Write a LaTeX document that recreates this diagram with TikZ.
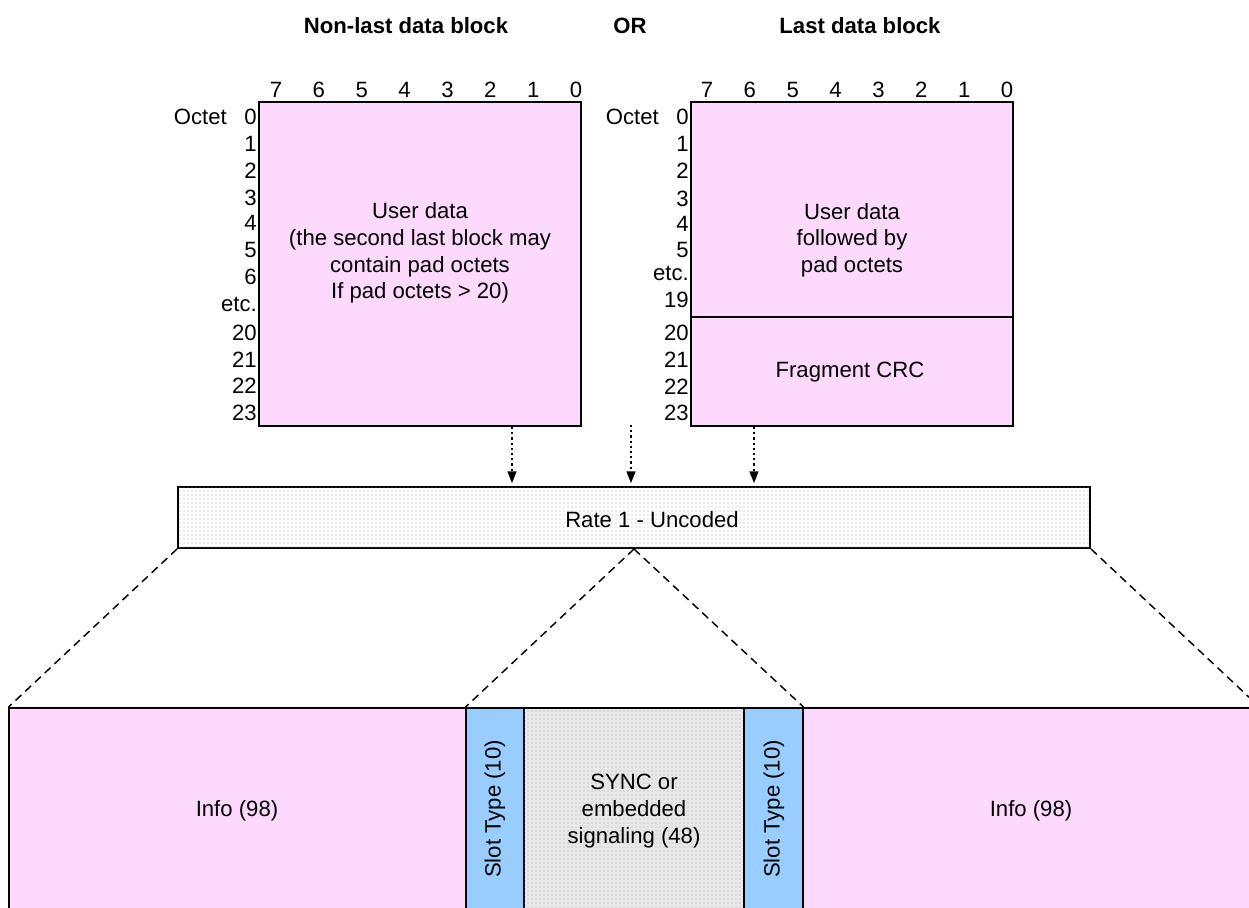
\documentclass[tikz,border=0pt]{standalone}
\usepackage{fontspec}
\setmainfont{Liberation Sans}
\usetikzlibrary{fit,patterns,arrows.meta}
\definecolor{pinkf}{RGB}{253,218,253}
\definecolor{bluef}{RGB}{153,204,255}
\definecolor{grayf}{RGB}{232,232,232}
\begin{document}
\begin{tikzpicture}[x=0.75pt,y=-0.75pt,
  font=\fontsize{16.6}{20}\selectfont,
  box/.style={inner sep=0pt, draw, line width=1.5pt},
  fbox/.style={inner sep=0pt, draw, line width=1.1pt},
  lbl/.style={inner sep=0pt, align=center},
  num/.style={inner sep=0pt, anchor=east},
  title/.style={inner sep=0pt, font=\fontsize{16.6}{20}\selectfont\bfseries},
  arr/.style={line width=1.7pt, dash pattern=on 1.7pt off 2.2pt, -{Triangle[length=9pt,width=6.5pt]}, shorten >=2pt},
  dsh/.style={line width=1.1pt, dash pattern=on 6pt off 4pt},
  dots/.style={postaction={pattern=dots, pattern color=gray!65}}
]
\useasboundingbox (0,0) rectangle (1249,907);
\clip (0,0) rectangle (1249,907);

% titles
\node[title] (t1) at (406,26) {Non-last data block};
\node[title] (t2) at (630,26) {OR};
\node[title] (t3) at (860,26) {Last data block};

% left block
\node[box, fill=pinkf, fit={(259,102)(581,426)}] (lb) {};
\node[lbl] (lbt) at (420,253) {User data\\(the second last block may\\contain pad octets\\If pad octets > 20)};

% right block
\node[box, fill=pinkf, fit={(691,102)(1013,317)}] (rbt) {};
\node[box, fill=pinkf, fit={(691,317)(1013,426)}] (rbb) {};
\node[lbl] (rbtt) at (852,240) {User data\\followed by\\pad octets};
\node[lbl] (rbbt) at (850,372) {Fragment CRC};

% bit numbers
\foreach \i in {0,...,7}{
  \pgfmathsetmacro{\xl}{276+42.86*\i}
  \pgfmathsetmacro{\xr}{707+42.86*\i}
  \pgfmathtruncatemacro{\b}{7-\i}
  \node[inner sep=0pt] (bl\i) at (\xl,90) {\b};
  \node[inner sep=0pt] (br\i) at (\xr,90) {\b};
}

% octet labels
\node[num] (ol) at (227,117) {Octet};
\node[num] (or) at (659,117) {Octet};
\foreach \t/\y [count=\k] in {0/117,1/144,2/171,3/198,4/223,5/250,6/277,etc./304,20/333,21/360,22/386,23/413}{
  \node[num] (l\k) at (257,\y) {\t};
}
\foreach \t/\y [count=\k] in {0/117,1/144,2/171,3/199,4/224,5/250,etc./273,19/300,20/333,21/360,22/387,23/413}{
  \node[num] (r\k) at (689,\y) {\t};
}

% rate box
\node[box, fill=white, dots, fit={(178,487)(1090,548)}] (rate) {};
\node[lbl] (ratet) at (652,520) {Rate 1 - Uncoded};

% arrows
\coordinate (a1) at (512,428);
\coordinate (a2) at (631,425);
\coordinate (a3) at (754,428);
\draw[arr] (lb.south -| a1) -- (rate.north -| a1);
\draw[arr] (a2) -- (rate.north -| a2);
\draw[arr] (rbb.south -| a3) -- (rate.north -| a3);

% bottom row
\node[fbox, fill=pinkf, fit={(9,708)(466,930)}] (info1) {};
\node[fbox, fill=bluef, fit={(466,708)(524,930)}] (slot1) {};
\node[fbox, fill=grayf, dots, fit={(524,708)(744,930)}] (sync) {};
\node[fbox, fill=bluef, fit={(744,708)(803,930)}] (slot2) {};
\node[fbox, fill=pinkf, fit={(803,708)(1259,930)}] (info2) {};

\node[lbl] (info1t) at (237,811) {Info (98)};
\node[lbl] (info2t) at (1031,811) {Info (98)};
\node[lbl, rotate=90] (slot1t) at (495,809) {Slot Type (10)};
\node[lbl, rotate=90] (slot2t) at (774,809) {Slot Type (10)};
\node[lbl] (synct) at (634,811) {SYNC or\\embedded\\signaling (48)};

% dashed expansion lines
\draw[dsh] (rate.south west) -- (info1.north west);
\draw[dsh] (rate.south) -- (slot1.north west);
\draw[dsh] (rate.south) -- (slot2.north east);
\draw[dsh] (rate.south east) -- (info2.north east);
\end{tikzpicture}
\end{document}
